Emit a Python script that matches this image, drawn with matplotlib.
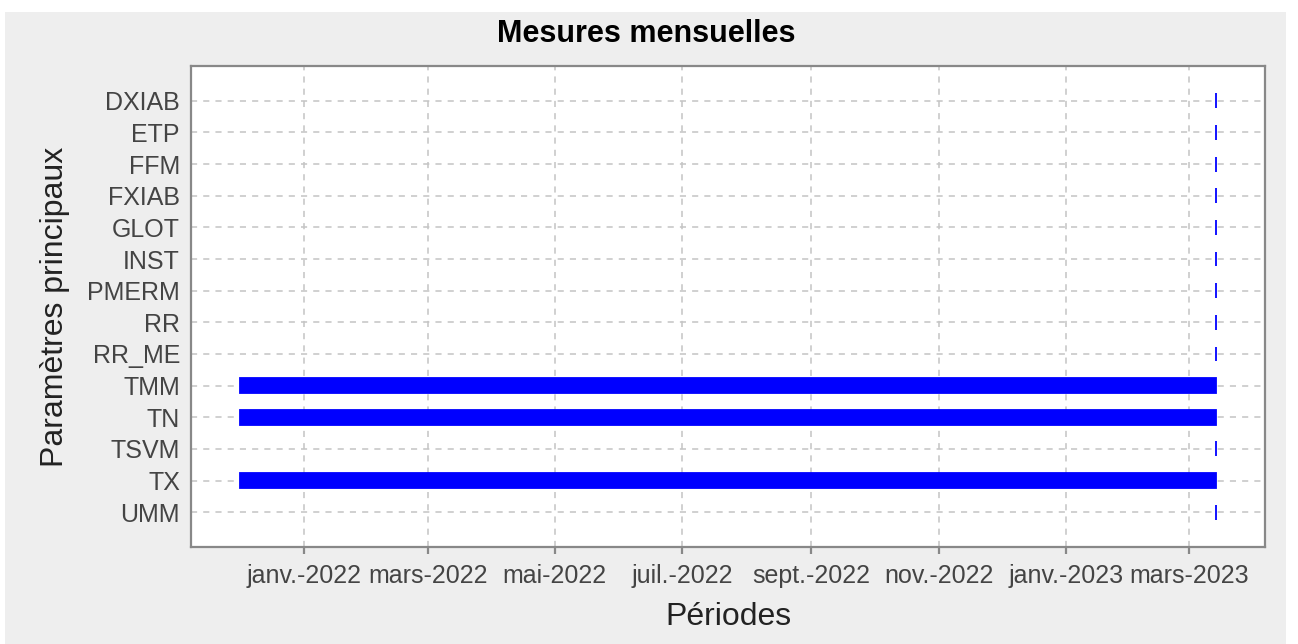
import matplotlib
matplotlib.use("Agg")
import matplotlib.pyplot as plt
import matplotlib.dates as mdates
from matplotlib.patches import Rectangle
from datetime import datetime

params = ["UMM", "TX", "TSVM", "TN", "TMM", "RR_ME", "RR", "PMERM",
          "INST", "GLOT", "FXIAB", "FFM", "ETP", "DXIAB"]
starts = ["2023-03-14", "2021-12-01", "2023-03-14", "2021-12-01", "2021-12-01",
          "2023-03-14", "2023-03-14", "2023-03-14", "2023-03-14", "2023-03-14",
          "2023-03-14", "2023-03-14", "2023-03-14", "2023-03-14"]
ends = ["2023-03-14"] * 14
mois = ["janv.", "févr.", "mars", "avr.", "mai", "juin",
        "juil.", "août", "sept.", "oct.", "nov.", "déc."]

plt.rcParams["font.family"] = ["Liberation Sans", "DejaVu Sans"]

fig = plt.figure(figsize=(12.98, 6.44), dpi=100, facecolor="white")
fig.patches.append(Rectangle((5 / 1298, 0), 1281 / 1298, 632 / 644,
                             transform=fig.transFigure, facecolor="#eeeeee",
                             edgecolor="none", zorder=-10))
ax = fig.add_axes([191 / 1298, 1 - 547 / 644, 1074 / 1298, 481 / 644])
ax.set_facecolor("white")
ax.use_sticky_edges = False

d0 = [mdates.date2num(datetime.strptime(s, "%Y-%m-%d")) for s in starts]
d1 = [mdates.date2num(datetime.strptime(s, "%Y-%m-%d")) for s in ends]
widths = [b - a for a, b in zip(d0, d1)]
ax.barh(range(len(params)), widths, left=d0, height=0.47,
        color="blue", edgecolor="blue", linewidth=1.3, zorder=3)

ax.xaxis_date()
ax.xaxis.set_major_locator(mdates.MonthLocator(bymonth=[1, 3, 5, 7, 9, 11]))
ax.xaxis.set_major_formatter(plt.FuncFormatter(
    lambda x, pos: "%s-%d" % (mois[mdates.num2date(x).month - 1], mdates.num2date(x).year)))
ax.margins(x=0.05)
ax.set_ylim(-1.1, len(params) - 1 + 1.1)
ax.set_yticks(range(len(params)))
ax.set_yticklabels(params)

ax.grid(True, linestyle=(0, (4, 4)), color="#c4c4c4", linewidth=1.1)
ax.set_axisbelow(True)
for sp in ax.spines.values():
    sp.set_color("#888888")
    sp.set_linewidth(1.6)
ax.tick_params(axis="x", length=5, width=1.6, color="#888888",
               labelsize=18, labelcolor="#444444", pad=7)
ax.tick_params(axis="y", length=0, labelsize=18, labelcolor="#444444", pad=8)

fig.suptitle("Mesures mensuelles", x=646 / 1298, y=1 - 34 / 644, va="center",
             fontsize=22, fontweight="bold")
ax.set_xlabel("Périodes", fontsize=23, color="#222222", labelpad=10)
ax.set_ylabel("Paramètres principaux", fontsize=23, color="#222222", labelpad=12)

fig.savefig("out.png", dpi=100, facecolor=fig.get_facecolor())
